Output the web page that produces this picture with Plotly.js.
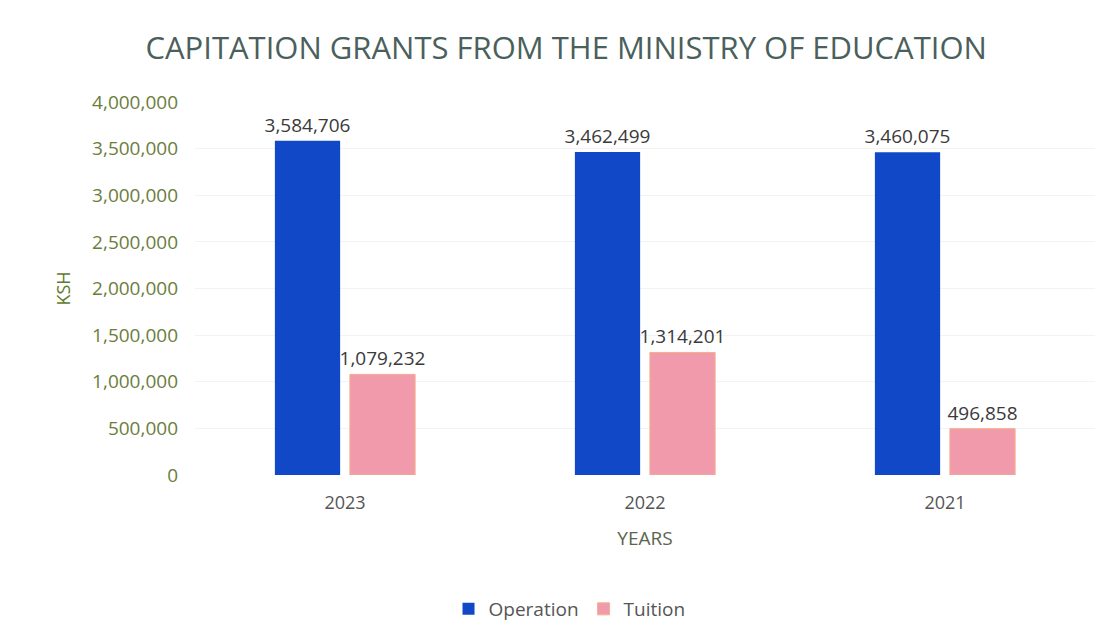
<!DOCTYPE html>
<html>
<head>
<meta charset="utf-8">
<script src="https://cdn.plot.ly/plotly-3.0.1.min.js"></script>
<style>html,body{margin:0;padding:0;background:#fff;}#chart{width:1108px;height:644px;}</style>
</head>
<body>
<div id="chart"></div>
<script>
const years = ["2023", "2022", "2021"];
const operation = [3584706, 3462499, 3460075];
const tuition = [1079232, 1314201, 496858];
const seriesNames = ["Operation", "Tuition"];

const fontFam = "'Open Sans', Lato, 'Liberation Sans', sans-serif";
const fmt = v => v.toLocaleString("en-US");

const traces = [
  {
    type: "bar", name: seriesNames[0], x: years, y: operation,
    text: operation.map(fmt), textposition: "outside", cliponaxis: false,
    constraintext: "none",
    textfont: {family: fontFam, size: 19, color: "#3a3a3a"},
    marker: {color: "#1148c8"}
  },
  {
    type: "bar", name: seriesNames[1], x: years, y: tuition,
    text: tuition.map(fmt), textposition: "outside", cliponaxis: false,
    constraintext: "none",
    textfont: {family: fontFam, size: 19, color: "#3a3a3a"},
    marker: {color: "#f19aac", line: {color: "#f4b08a", width: 1}}
  }
];

const layout = {
  width: 1108, height: 644,
  paper_bgcolor: "#ffffff", plot_bgcolor: "#ffffff",
  margin: {l: 195, r: 13, t: 102, b: 169},
  font: {family: fontFam},
  title: {
    text: "CAPITATION GRANTS FROM THE MINISTRY OF EDUCATION",
    font: {family: fontFam, size: 31, color: "#4b5f5c"},
    xref: "container", x: 0.511, xanchor: "center",
    yref: "container", y: 1 - 48/644, yanchor: "middle"
  },
  barmode: "group", bargap: 0.5, bargroupgap: 0.13,
  xaxis: {
    type: "category",
    tickfont: {family: fontFam, size: 18, color: "#555555"},
    ticks: "", ticklabelstandoff: 15,
    showline: false, showgrid: false,
    title: {text: "YEARS", font: {family: fontFam, size: 19, color: "#5a6550"}, standoff: 18}
  },
  yaxis: {
    range: [0, 4000000], dtick: 500000, tickformat: ",d",
    tickfont: {family: fontFam, size: 19, color: "#6b7d3c"},
    showgrid: true, gridcolor: "#f2f4f4", zeroline: false, showline: false,
    ticklabelstandoff: 16,
    title: {text: "KSH", font: {family: fontFam, size: 18, color: "#5f7a2e"}, standoff: 16}
  },
  showlegend: true,
  legend: {
    orientation: "h", xref: "container", yref: "container",
    x: 0.514, xanchor: "center", y: 1 - 609/644, yanchor: "middle",
    font: {family: fontFam, size: 19, color: "#555555"},
    itemwidth: 30
  }
};

Plotly.newPlot("chart", traces, layout, {displayModeBar: false, staticPlot: true});
</script>
</body>
</html>
